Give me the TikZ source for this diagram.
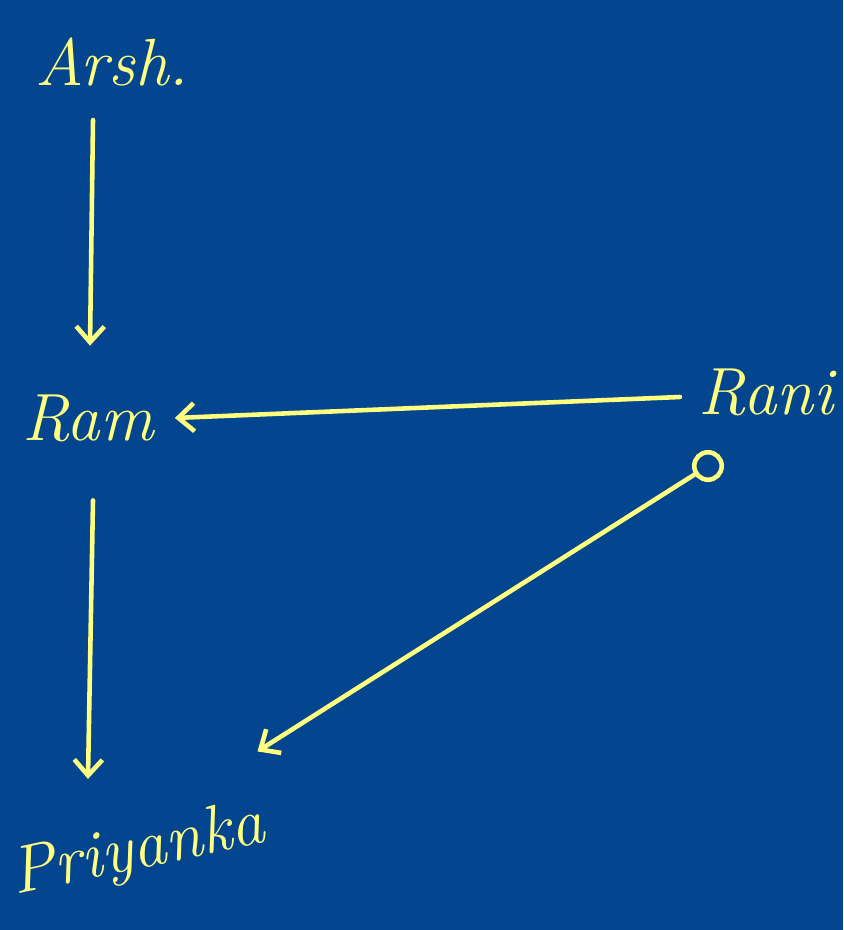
\documentclass[tikz,border=0pt]{standalone}
\usetikzlibrary{arrows.meta, positioning}
\definecolor{boardblue}{RGB}{3,70,143}
\definecolor{chalkyellow}{RGB}{255,255,128}

\begin{document}
\begin{tikzpicture}[
    x=0.02cm, y=-0.02cm,
    person/.style={text=chalkyellow, font=\fontsize{38}{44}\selectfont\itshape, inner sep=2pt},
    arrow/.style={-{Straight Barb[length=9pt, width=16pt, line width=2.6pt]}, draw=chalkyellow, line width=2.6pt, line cap=round},
    tail/.style={circle, draw=chalkyellow, line width=2.6pt, minimum size=0.55cm, inner sep=0pt}
    ]

    % Background board
    \fill[boardblue] (0,0) rectangle (843,930);
    \useasboundingbox (0,0) rectangle (843,930);

    % People
    \node[person] (arsh) at (112,62) {Arsh.};
    \node[person] (ram) at (88,418) {Ram};
    \node[person] (rani) at (766,392) {Rani};
    \node[person, rotate=12] (priyanka) at (138,852) {Priyanka};
    \node[tail] (ranidot) at (708,466) {};

    % Who points to whom
    \draw[arrow] ([xshift=-0.38cm, yshift=-0.6cm]arsh.south) -- ([xshift=0.04cm, yshift=0.9cm]ram.north);
    \draw[arrow] ([xshift=-0.3cm, yshift=-0.1cm]rani.west) -- ([xshift=0.35cm]ram.east);
    \draw[arrow] ([xshift=0.1cm, yshift=-1.1cm]ram.south) -- ([xshift=-0.86cm, yshift=0.8cm]priyanka.north);
    \draw[arrow] (ranidot) -- ([xshift=-0.06cm, yshift=0.8cm]priyanka.north east);

\end{tikzpicture}
\end{document}
